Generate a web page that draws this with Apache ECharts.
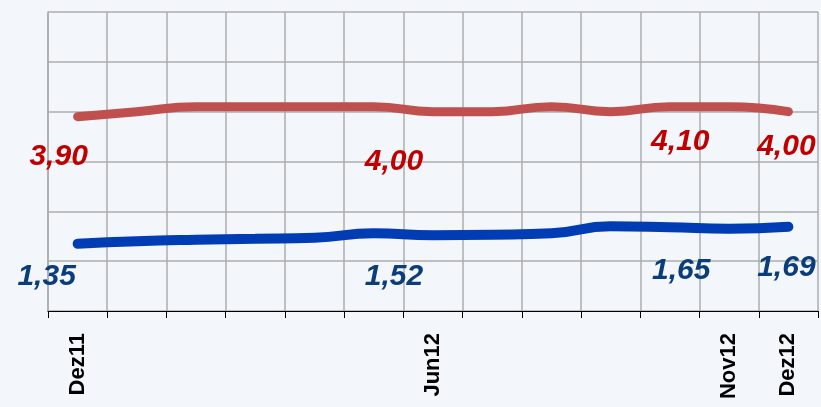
<!DOCTYPE html>
<html>
<head>
<meta charset="utf-8">
<script src="https://cdn.jsdelivr.net/npm/echarts@6/dist/echarts.min.js"></script>
<style>
  html, body { margin: 0; padding: 0; background: #f3f7fc; }
  #chart { width: 821px; height: 407px; }
</style>
</head>
<body>
<div id="chart"></div>
<script>
const months = ["Dez11", "Jan12", "Feb12", "Mrz12", "Apr12", "Mai12", "Jun12",
  "Jul12", "Aug12", "Sep12", "Okt12", "Nov12", "Dez12"];
const redValues = [3.9, 4.0, 4.1, 4.1, 4.1, 4.1, 4.0, 4.0, 4.1, 4.0, 4.1, 4.1, 4.0];
const blueValues = [1.35, 1.4, 1.43, 1.45, 1.47, 1.56, 1.52, 1.53, 1.56, 1.7, 1.68, 1.65, 1.69];
const shownMonths = [0, 6, 11, 12];

// hand placed value labels, as in the original
const redOffsets = { 0: [-19, 40], 6: [-39, 50], 11: [-49, 35], 12: [-2, 35] };
const blueOffsets = { 0: [-31, 33], 6: [-39, 41], 11: [-48, 42], 12: [-2, 41] };

function fmt(v) {
  return v.toFixed(2).replace(".", ",");
}

function buildData(values, offsets, color) {
  return values.map((v, i) => {
    const off = offsets[i];
    if (!off) return v;
    return {
      value: v,
      label: {
        show: true,
        position: "inside",
        offset: off,
        formatter: () => fmt(v),
        color: color,
        fontFamily: "Liberation Sans",
        fontStyle: "italic",
        fontWeight: "bold",
        fontSize: 30,
        align: "center",
        verticalAlign: "middle",
      },
    };
  });
}

function lineSeries(name, values, offsets, lineColor, labelColor, width) {
  return {
    name: name,
    type: "line",
    smooth: 0.5,
    symbol: "circle",
    symbolSize: 1,
    itemStyle: { color: lineColor },
    lineStyle: { color: lineColor, width: width, cap: "round" },
    label: { show: false },
    data: buildData(values, offsets, labelColor),
    z: 3,
  };
}

const chart = echarts.init(document.getElementById("chart"));
chart.setOption({
  backgroundColor: "#f3f7fc",
  animation: false,
  grid: { left: 48, right: 3, top: 12, bottom: 96 },
  xAxis: {
    type: "category",
    data: months,
    boundaryGap: true,
    axisLine: { lineStyle: { color: "#000", width: 1 } },
    axisTick: { show: true, interval: 0, length: 7, lineStyle: { color: "#000" } },
    splitLine: { show: true, interval: 0, lineStyle: { color: "#adadad", width: 1.5 } },
    axisLabel: {
      interval: (idx) => shownMonths.includes(idx),
      rotate: 90,
      margin: 22,
      color: "#000",
      fontFamily: "Liberation Sans",
      fontWeight: "bold",
      fontSize: 22,
    },
  },
  yAxis: {
    type: "value",
    min: 0,
    max: 6,
    interval: 1,
    axisLine: { show: true, lineStyle: { color: "#adadad", width: 1.5 } },
    axisTick: { show: false },
    axisLabel: { show: false },
    splitLine: { show: true, lineStyle: { color: "#adadad", width: 1.5 } },
  },
  series: [
    lineSeries("rot", redValues, redOffsets, "#c0504d", "#c00000", 9),
    lineSeries("blau", blueValues, blueOffsets, "#003cb4", "#0b3d7a", 10),
  ],
});
</script>
</body>
</html>
